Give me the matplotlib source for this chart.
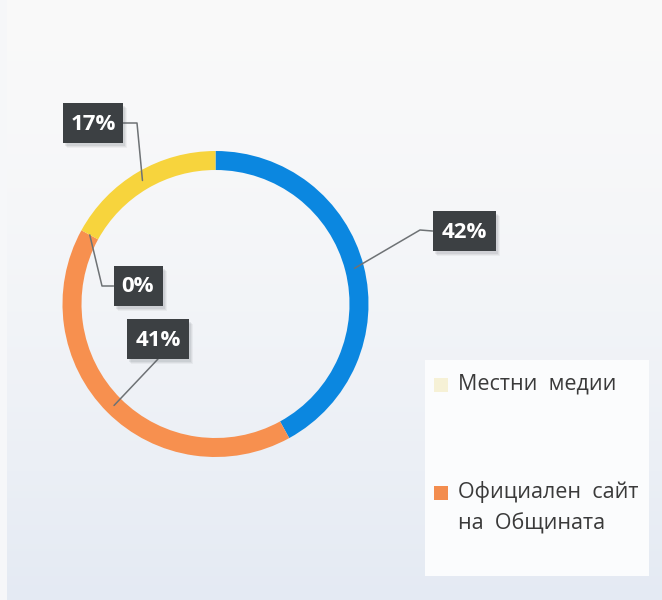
#!/usr/bin/env python3

import numpy as np
import matplotlib.pyplot as plt
from matplotlib.patches import Rectangle

# share of answers per source, clockwise from 12 o'clock
shares = [42, 41, 0, 17]
share_labels = ['42%', '41%', '0%', '17%']
colors = ['#0b87e0', '#f7904f', '#a5a5a5', '#f7d43d']

legend_names = ['Местни  медии', 'Официален  сайт\nна  Общината']
legend_colors = ['#f6f1d6', '#f38d4f']

fig = plt.figure(figsize=(6.62, 6.0), dpi=100)
ax = fig.add_axes([0, 0, 1, 1])

# pixel-like coordinates, y going down
cx, cy, radius, ring = 215.5, 304, 153, 19

wedges, _ = ax.pie(shares, colors=colors, startangle=-90, counterclock=True,
                   center=(cx, cy), radius=radius,
                   wedgeprops=dict(width=ring, linewidth=0))
for w in wedges:
    w.set_zorder(3)

ax.set_xlim(0, 662)
ax.set_ylim(600, 0)
ax.set_aspect('equal')
ax.axis('off')

# soft grey-blue backdrop, lighter at the top
grad = np.linspace(0, 1, 256)[:, None] ** 1.6
top = np.array([0.978, 0.978, 0.98])
bottom = np.array([0.895, 0.918, 0.953])
bg = top + (bottom - top) * grad[..., None]
ax.imshow(np.repeat(bg, 2, axis=1), extent=(0, 662, 600, 0), aspect='auto', zorder=0)
ax.add_patch(Rectangle((0, 0), 7, 600, color='#f6f7f9', lw=0, zorder=0.5))

# data label boxes: (centre x, centre y, width, elbow point)
label_boxes = [
    (464, 231, 63, (420, 230)),
    (158, 339, 62, None),
    (138, 286, 49, (102, 286)),
    (93, 123, 60, (137, 123)),
]

r_mid = radius - ring / 2
for w, text, (bx, by, bw, elbow) in zip(wedges, share_labels, label_boxes):
    mid = np.deg2rad((w.theta1 + w.theta2) / 2)
    px, py = cx + r_mid * np.cos(mid), cy + r_mid * np.sin(mid)
    bh = 40
    if elbow is None:
        xs, ys = [bx, px], [by + bh / 2, py]
    else:
        edge = bx - bw / 2 if elbow[0] < bx else bx + bw / 2
        xs, ys = [edge, elbow[0], px], [by, elbow[1], py]
    ax.plot(xs, ys, color='#6e7275', lw=1.1, zorder=4, solid_capstyle='round')
    # shadow then box
    for k, a in enumerate([0.10, 0.08, 0.06]):
        ax.add_patch(Rectangle((bx - bw / 2 + 2 + k, by - bh / 2 + 3 + k), bw, bh,
                               color='#50565c', alpha=a, lw=0, zorder=4.5))
    ax.add_patch(Rectangle((bx - bw / 2, by - bh / 2), bw, bh,
                           color='#3c4043', lw=0, zorder=5))
    ax.text(bx, by + 1, text, color='white', fontsize=16, fontweight='bold',
            family='Open Sans', ha='center', va='center', zorder=6)

# legend panel
ax.add_patch(Rectangle((425, 360), 224, 216, color='#fbfcfd', lw=0, zorder=2))
legend_y = [385, 493]
for name, col, ly in zip(legend_names, legend_colors, legend_y):
    ax.add_patch(Rectangle((434, ly - 7), 14, 14, color=col, lw=0, zorder=3))
    ax.text(458, ly - 12, name, color='#3a3a3a', fontsize=15.5, family='Open Sans',
            ha='left', va='top', linespacing=1.6, zorder=3)

plt.savefig('out.png', dpi=100)
